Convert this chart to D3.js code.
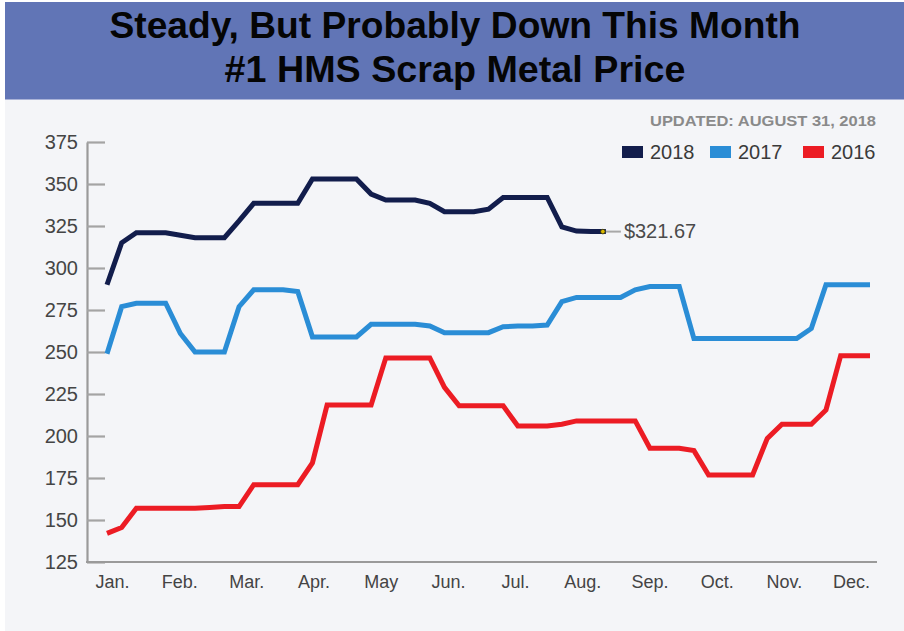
<!DOCTYPE html>
<html>
<head>
<meta charset="utf-8">
<script src="https://cdn.jsdelivr.net/npm/d3@7"></script>
<style>
  html, body { margin: 0; padding: 0; background: #ffffff; }
  svg { display: block; font-family: "Liberation Sans", Arial, Helvetica, sans-serif; }
</style>
</head>
<body>
<svg id="chart" width="904" height="631"></svg>
<script>
// Weekly #1 HMS scrap prices ($/ton), week 0 = first week of January
const months = ["Jan.", "Feb.", "Mar.", "Apr.", "May", "Jun.", "Jul.", "Aug.", "Sep.", "Oct.", "Nov.", "Dec."];
const yTicks = [125, 150, 175, 200, 225, 250, 275, 300, 325, 350, 375];

const price2018 = [
  290, 315, 321, 321, 321, 319.5, 318, 318, 318, 328,
  338.5, 338.5, 338.5, 338.5, 353, 353, 353, 353, 344, 340.5,
  340.5, 340.5, 338.5, 333.5, 333.5, 333.5, 335, 342, 342, 342,
  342, 324.5, 322, 321.67, 321.67
];
const price2017 = [
  249, 277, 279, 279, 279, 261, 250, 250, 250, 277,
  287, 287, 287, 286, 259, 259, 259, 259, 266.5, 266.5,
  266.5, 266.5, 265.5, 261.5, 261.5, 261.5, 261.5, 265, 265.5, 265.5,
  266, 280, 282.5, 282.5, 282.5, 282.5, 287, 289, 289, 289,
  258, 258, 258, 258, 258, 258, 258, 258, 264, 290,
  290, 290, 290
];
const price2016 = [
  142, 145.5, 157, 157, 157, 157, 157, 157.5, 158, 158,
  171, 171, 171, 171, 184, 218.5, 218.5, 218.5, 218.5, 246.5,
  246.5, 246.5, 246.5, 229, 218, 218, 218, 218, 206, 206,
  206, 207, 209, 209, 209, 209, 209, 192.7, 192.7, 192.7,
  191.3, 176.8, 176.8, 176.8, 176.8, 198.6, 207, 207, 207, 215.5,
  247.8, 247.8, 247.8
];

const series = [
  { year: "2018", values: price2018, color: "#121d4c" },
  { year: "2017", values: price2017, color: "#2a8dd6" },
  { year: "2016", values: price2016, color: "#ec1c24" }
];
const latestLabel = "$321.67";
const updatedText = "UPDATED: AUGUST 31, 2018";
const titleLines = ["Steady, But Probably Down This Month", "#1 HMS Scrap Metal Price"];

const svg = d3.select("#chart");

// page panels
svg.append("rect").attr("x", 5).attr("y", 2).attr("width", 899).attr("height", 629).attr("fill", "#f4f5f8");
svg.append("rect").attr("x", 5).attr("y", 2).attr("width", 899).attr("height", 97).attr("fill", "#6175b6");
svg.append("line").attr("x1", 5).attr("x2", 904).attr("y1", 99.5).attr("y2", 99.5)
  .attr("stroke", "#aab3d8").attr("stroke-width", 1);

// title
const titleWidths = [691, 461];
svg.selectAll("text.title").data(titleLines).join("text")
  .attr("class", "title")
  .attr("x", 455).attr("y", (d, i) => 38 + i * 44)
  .attr("text-anchor", "middle")
  .attr("font-size", 36).attr("font-weight", "bold").attr("fill", "#050505")
  .attr("textLength", (d, i) => titleWidths[i]).attr("lengthAdjust", "spacingAndGlyphs")
  .text(d => d);

// scales
const x = d3.scaleLinear().domain([0, 52]).range([107, 870]);
const y = d3.scaleLinear().domain([125, 375]).range([562, 142]);
const xMonth = d3.scalePoint().domain(months).range([112, 851]);

// y axis: ticks point into the plot, labels to the left
const yAxis = svg.append("g").attr("transform", "translate(87,0)")
  .call(d3.axisLeft(y).tickValues(yTicks).tickSizeInner(-18).tickSizeOuter(0).tickPadding(9));
yAxis.select(".domain").attr("stroke", "#9a9a9a").attr("stroke-width", 2.2);
yAxis.selectAll(".tick line").attr("stroke", "#a4a4a4").attr("stroke-width", 2.2);
yAxis.selectAll(".tick text").attr("font-size", 20).attr("fill", "#454545")
  .attr("font-family", "'Liberation Sans', Arial, sans-serif");

// x baseline
svg.append("line").attr("x1", 86).attr("x2", 877).attr("y1", y(125)).attr("y2", y(125))
  .attr("stroke", "#9a9a9a").attr("stroke-width", 2.2);

// month labels
const xAxis = svg.append("g").attr("transform", `translate(0,${y(125)})`)
  .call(d3.axisBottom(xMonth).tickSize(0).tickPadding(13));
xAxis.select(".domain").remove();
xAxis.selectAll(".tick text").attr("font-size", 18).attr("fill", "#444")
  .attr("font-family", "'Liberation Sans', Arial, sans-serif");

// price lines
const line = d3.line().x((d, i) => x(i)).y(d => y(d)).curve(d3.curveLinear);
svg.selectAll("path.price").data(series.slice().reverse()).join("path")
  .attr("class", "price")
  .attr("d", d => line(d.values))
  .attr("fill", "none")
  .attr("stroke", d => d.color)
  .attr("stroke-width", 5)
  .attr("stroke-linejoin", "miter")
  .attr("stroke-miterlimit", 2.5);

// latest 2018 value marker and callout
const lastIdx = price2018.length - 1;
const lx = x(lastIdx) - 3, ly = y(price2018[lastIdx]);
svg.append("line").attr("x1", lx + 3).attr("x2", lx + 18).attr("y1", ly).attr("y2", ly)
  .attr("stroke", "#a8a8a8").attr("stroke-width", 2);
svg.append("circle").attr("cx", lx).attr("cy", ly).attr("r", 2.3)
  .attr("fill", "#d9b800").attr("stroke", "#33310f").attr("stroke-width", 0.8);
svg.append("text").attr("x", lx + 21).attr("y", ly + 6.5)
  .attr("font-size", 20).attr("fill", "#4a4a4a").text(latestLabel);

// legend
svg.append("text").attr("x", 876).attr("y", 126)
  .attr("text-anchor", "end").attr("font-size", 15.5).attr("font-weight", "bold")
  .attr("fill", "#8a8a8a").attr("textLength", 226).attr("lengthAdjust", "spacingAndGlyphs")
  .text(updatedText);

const legendX = [622, 710, 803];
const legend = svg.selectAll("g.legend").data(series).join("g")
  .attr("class", "legend")
  .attr("transform", (d, i) => `translate(${legendX[i]},0)`);
legend.append("rect").attr("x", 0).attr("y", 146).attr("width", 21).attr("height", 12)
  .attr("fill", d => d.color);
legend.append("text").attr("x", (d, i) => i === 2 ? 28 : 28).attr("y", 159)
  .attr("font-size", 20).attr("fill", "#3a3a3a").text(d => d.year);
</script>
</body>
</html>
